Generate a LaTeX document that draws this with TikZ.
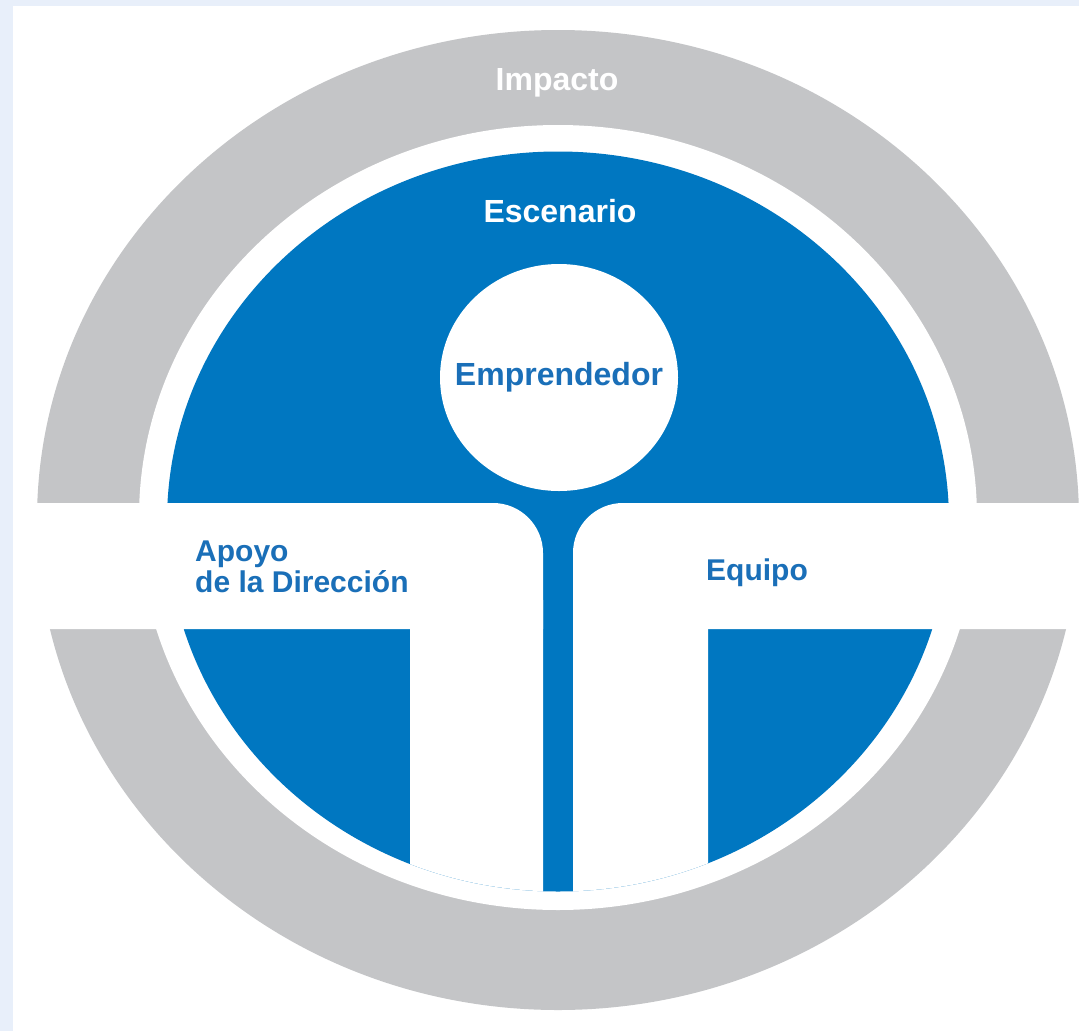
\documentclass[tikz,border=0pt]{standalone}
\usepackage{fontspec}
\setmainfont{Liberation Sans}
\definecolor{ringgray}{HTML}{C4C5C7}
\definecolor{coreblue}{HTML}{0077C1}
\definecolor{labelblue}{HTML}{1A6FB8}
\definecolor{paleblue}{HTML}{E8EFFA}
\begin{document}
\begin{tikzpicture}[x=1pt,y=1pt,
  biglabel/.style={font=\fontsize{32}{34}\selectfont\bfseries,inner sep=0pt},
  sidelabel/.style={font=\fontsize{30}{31}\selectfont\bfseries,text=labelblue,align=left,inner sep=0pt}]
\useasboundingbox (0,0) rectangle (1079,-1031);
\fill[paleblue] (0,0) rectangle (1079,-1031);
\fill[white] (13,-6) rectangle (1079,-1031);
\fill[ringgray] (558,-520) ellipse [x radius=521,y radius=490];
\fill[white] (558,-517.5) ellipse [x radius=419,y radius=392.5];
\fill[coreblue] (558,-521.5) ellipse [x radius=391,y radius=370];
\begin{scope}
\clip (558,-521.5) ellipse [x radius=391,y radius=370];
\fill[white] (410,-600) rectangle (543,-950) (573,-600) rectangle (708,-950);
\end{scope}
\fill[white] (13,-503) -- (493,-503) arc[start angle=90,end angle=0,radius=50] -- (543,-629) -- (13,-629) -- cycle;
\fill[white] (1079,-503) -- (623,-503) arc[start angle=90,end angle=180,radius=50] -- (573,-629) -- (1079,-629) -- cycle;
\fill[white] (559,-377.5) ellipse [x radius=119,y radius=113.5];
\node[biglabel,text=labelblue] (emprendedor) at (559,-377.5) {Emprendedor};
\node[biglabel,text=white,anchor=base] (impacto) at (557,-90) {Impacto};
\node[biglabel,text=white,anchor=base] (escenario) at (560,-222) {Escenario};
\node[sidelabel,anchor=north west] (apoyo) at (195,-541) {Apoyo\\de la Dirección};
\node[sidelabel,anchor=base west] (equipo) at (706,-580) {Equipo};
\end{tikzpicture}
\end{document}
